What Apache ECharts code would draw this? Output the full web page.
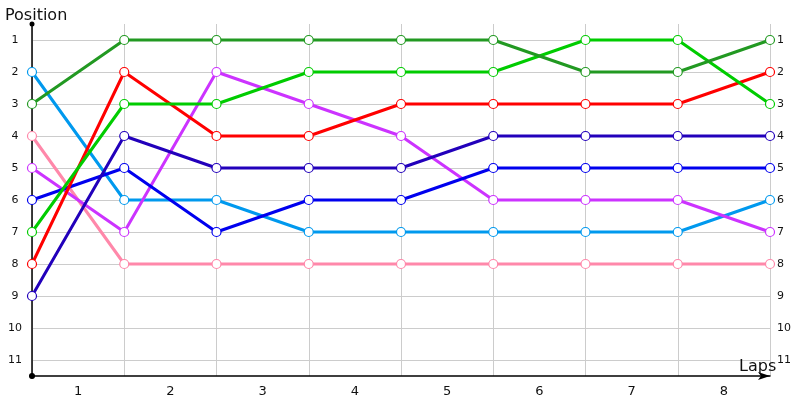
<!DOCTYPE html>
<html>
<head>
<meta charset="utf-8">
<script src="https://cdn.jsdelivr.net/npm/echarts@6/dist/echarts.min.js"></script>
<style>html,body{margin:0;padding:0;background:#fff}#c{width:800px;height:400px}</style>
</head>
<body>
<div id="c"></div>
<script>
var lapLabels = ['1','2','3','4','5','6','7','8'];
var lapPoints = ['0','1','2','3','4','5','6','7','8'];
var positionTicks = [1,2,3,4,5,6,7,8,9,10,11];

var darkGreen  = [3,1,1,1,1,1,2,2,1];
var lightGreen = [7,3,3,2,2,2,1,1,3];
var red        = [8,2,4,4,3,3,3,3,2];
var navy       = [9,4,5,5,5,4,4,4,4];
var blue       = [6,5,7,6,6,5,5,5,5];
var lightBlue  = [2,6,6,7,7,7,7,7,6];
var purple     = [5,7,2,3,4,6,6,6,7];
var pink       = [4,8,8,8,8,8,8,8,8];

var seriesDefs = [
  ['pink', pink, '#ff88aa'],
  ['lightBlue', lightBlue, '#0099ee'],
  ['purple', purple, '#cc33ff'],
  ['blue', blue, '#0000ee'],
  ['navy', navy, '#2200bb'],
  ['red', red, '#ff0000'],
  ['lightGreen', lightGreen, '#00cc00'],
  ['darkGreen', darkGreen, '#229922']
];

var font = 'DejaVu Sans';
var chart = echarts.init(document.getElementById('c'));

var yBase = {
  type: 'value', min: 0.5, max: 11.5, inverse: true,
  axisLabel: { customValues: positionTicks, fontFamily: font, fontSize: 11, color: '#111' },
  axisTick: { show: false, customValues: positionTicks },
  splitLine: { show: false }
};

chart.setOption({
  animation: false,
  textStyle: { fontFamily: font },
  title: [
    { text: 'Position', left: 0, top: 3, textStyle: { fontFamily: font, fontSize: 16, fontWeight: 'normal', color: '#111' } },
    { text: 'Laps', left: 734, top: 354, textStyle: { fontFamily: font, fontSize: 16, fontWeight: 'normal', color: '#111' } }
  ],
  grid: { left: 32, right: 30, top: 24, bottom: 24 },
  xAxis: [
    {
      type: 'category', data: lapLabels, boundaryGap: true,
      axisLine: { show: true, symbol: ['circle', 'arrow'], symbolSize: [6, 12], lineStyle: { color: '#000', width: 1.5 } },
      axisTick: { show: false },
      axisLabel: { fontFamily: font, fontSize: 13, color: '#111', margin: 9 },
      splitLine: { show: true, lineStyle: { color: '#cccccc', width: 1 } }
    },
    {
      type: 'category', data: lapPoints, boundaryGap: false, show: false
    }
  ],
  yAxis: [
    Object.assign({}, yBase, {
      position: 'left',
      axisLine: { show: true, symbol: ['circle', 'circle'], symbolSize: [5, 5], lineStyle: { color: '#000', width: 1.5 } },
      axisLabel: Object.assign({}, yBase.axisLabel, { margin: 17, align: 'center' }),
      splitLine: { show: true, lineStyle: { color: '#cccccc', width: 1 } }
    }),
    Object.assign({}, yBase, {
      position: 'right',
      axisLine: { show: false },
      axisLabel: Object.assign({}, yBase.axisLabel, { margin: 7 })
    })
  ],
  series: seriesDefs.map(function (d) {
    return {
      name: d[0], type: 'line', xAxisIndex: 1, yAxisIndex: 0, data: d[1],
      symbol: 'circle', symbolSize: 9,
      lineStyle: { color: d[2], width: 3 },
      itemStyle: { color: '#fff', borderColor: d[2], borderWidth: 1.2 },
      emphasis: { disabled: true }
    };
  })
});
</script>
</body>
</html>
